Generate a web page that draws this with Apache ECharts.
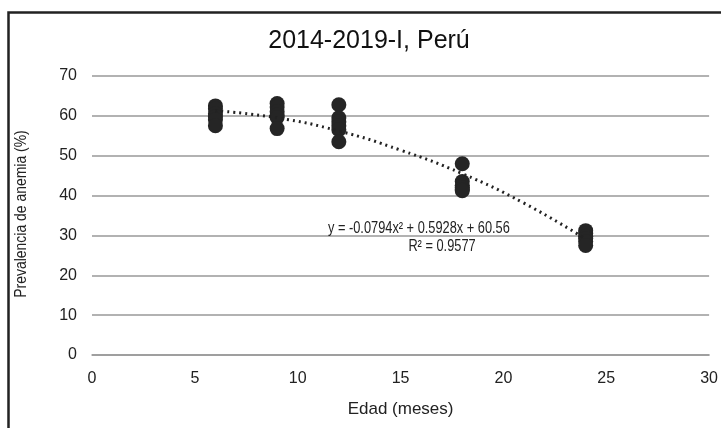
<!DOCTYPE html>
<html><head><meta charset="utf-8">
<script src="https://cdn.jsdelivr.net/npm/echarts@6/dist/echarts.min.js"></script>
<style>html,body{margin:0;padding:0;background:#fff}#c{width:721px;height:428px}</style>
</head><body><div id="c"></div>
<script>
var titleText = "2014-2019-I, Perú";
var xName = "Edad (meses)";
var yName = "Prevalencia de anemia (%)";
var ages = [6, 9, 12, 18, 24];
var prev6 = [62.5, 61.8, 60.5, 59.8, 59.0, 57.5];
var prev9 = [63.1, 62.2, 61.0, 60.2, 59.6, 56.8];
var prev12 = [62.8, 59.5, 58.5, 57.5, 56.5, 53.5];
var prev18 = [48.0, 43.5, 42.6, 42.0, 41.5, 41.2];
var prev24 = [31.2, 30.5, 29.8, 29.2, 28.5, 27.5];
var trendX = [6, 9, 12, 15, 18, 21, 24];
var trendY = [61.3, 59.5, 56.2, 51.4, 45.5, 38.1, 29.1];
var eqText = "y = -0.0794x² + 0.5928x + 60.56";
var r2Text = "R² = 0.9577";

var groups = [prev6, prev9, prev12, prev18, prev24];
var pts = [];
groups.forEach(function (g, i) { g.forEach(function (v) { pts.push([ages[i], v]); }); });
var trend = trendX.map(function (x, i) { return [x, trendY[i]]; });

var font = "'Liberation Sans', Arial, sans-serif";
var chart = echarts.init(document.getElementById('c'));
chart.setOption({
  animation: false,
  backgroundColor: '#fff',
  title: { text: titleText, left: 364, top: 24, textAlign: 'center',
    textStyle: { fontFamily: font, fontSize: 25, fontWeight: 'normal', color: '#111' } },
  grid: { left: 92, right: 9, top: 76, bottom: 73 },
  xAxis: { type: 'value', min: 0, max: 30, interval: 5,
    name: xName, nameLocation: 'middle', nameGap: 46,
    nameTextStyle: { fontFamily: font, fontSize: 17, color: '#222' },
    axisLine: { show: true, lineStyle: { color: '#999', width: 1.5 } },
    axisTick: { show: false }, splitLine: { show: false },
    axisLabel: { fontFamily: font, fontSize: 16, color: '#222', margin: 16 } },
  yAxis: { type: 'value', min: 0, max: 70, interval: 10,
    axisLine: { show: false }, axisTick: { show: false },
    splitLine: { lineStyle: { color: '#999', width: 1.5 } },
    axisLabel: { fontFamily: font, fontSize: 16, color: '#222', margin: 15 } },
  graphic: [
    { type: 'rect', left: 6, top: 10, shape: { width: 716, height: 418 },
      style: { fill: 'none', stroke: '#222', lineWidth: 2.5 }, z: -1 },
    { type: 'text', x: 21, y: 214, rotation: Math.PI / 2, scaleX: 0.82,
      style: { text: yName, font: '17px ' + font, fill: '#222', align: 'center', verticalAlign: 'middle' }, z: 100 },
    { type: 'text', x: 328, y: 229, scaleX: 0.8,
      style: { text: eqText, font: '16px ' + font, fill: '#222', align: 'left', verticalAlign: 'middle' }, z: 100 },
    { type: 'text', x: 442, y: 247, scaleX: 0.8,
      style: { text: r2Text, font: '16px ' + font, fill: '#222', align: 'center', verticalAlign: 'middle' }, z: 100 }
  ],
  series: [
    { type: 'scatter', data: pts, symbol: 'circle', symbolSize: 15,
      itemStyle: { color: '#252525', opacity: 1 }, z: 3 },
    { type: 'line', data: trend, smooth: true, symbol: 'none',
      lineStyle: { color: '#222', width: 3, type: [2, 4] }, z: 4 }
  ]
});
</script></body></html>
